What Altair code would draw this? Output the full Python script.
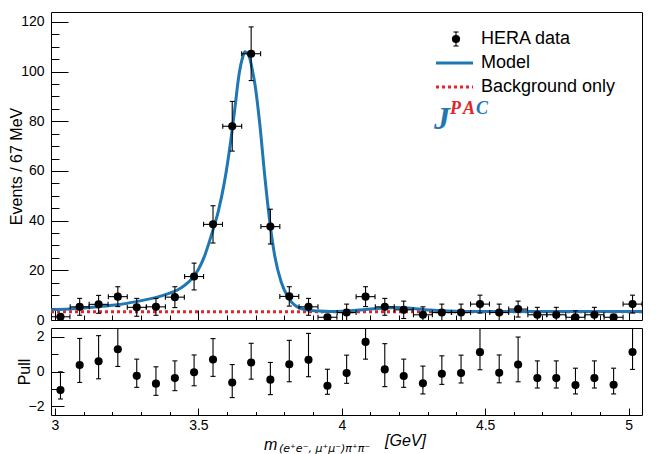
import altair as alt
import pandas as pd

# ---------------- data ----------------
mass = [3.019, 3.086, 3.152, 3.219, 3.285, 3.352, 3.418, 3.485, 3.551, 3.618,
        3.684, 3.751, 3.817, 3.884, 3.950, 4.017, 4.083, 4.150, 4.216, 4.283,
        4.349, 4.416, 4.482, 4.549, 4.615, 4.682, 4.748, 4.815, 4.881, 4.948, 5.014]
events = [1.3, 5.3, 6.3, 9.4, 5.1, 5.3, 9.2, 17.5, 38.5, 78.0,
          107.2, 37.6, 9.5, 5.3, 1.1, 3.0, 9.4, 5.3, 4.1, 2.1,
          3.0, 3.0, 6.4, 3.0, 4.4, 2.1, 2.1, 1.1, 2.1, 1.1, 6.4]
event_err = [1.0, 3.4, 3.6, 4.0, 3.6, 3.4, 4.2, 5.4, 7.5, 10.0,
             10.8, 7.0, 3.9, 3.4, 1.0, 3.4, 4.0, 3.4, 3.5, 3.2,
             3.4, 3.4, 3.6, 3.4, 3.2, 3.0, 3.0, 2.6, 3.0, 1.0, 3.6]
half_bin = 0.033

pull = [-1.07, 0.37, 0.59, 1.28, -0.25, -0.70, -0.38, -0.04, 0.69, -0.63,
        0.52, -0.47, 0.42, 0.67, -0.82, -0.09, 1.70, 0.12, -0.26, -0.68,
        -0.13, -0.09, 1.11, -0.07, 0.40, -0.38, -0.38, -0.78, -0.38, -0.76, 1.12]
pull_hi = [-0.02, 1.90, 2.06, 2.60, 0.71, 0.27, 0.61, 0.95, 1.89, 0.40,
           1.62, 0.52, 1.79, 2.19, 0.13, 0.94, 2.70, 1.60, 0.71, 0.31,
           0.90, 0.94, 2.60, 0.95, 1.98, 0.61, 0.61, 0.19, 0.61, 0.19, 2.60]
pull_lo = [-1.58, -0.63, -0.42, 0.29, -0.91, -1.37, -1.10, -0.82, -0.28, -1.50,
           -0.44, -1.33, -0.59, -0.30, -1.31, -0.68, 0.71, -0.87, -0.91, -1.29,
           -0.74, -0.66, 0.10, -0.65, -0.59, -0.95, -0.95, -1.29, -0.95, -1.29, 0.12]

model_m = [2.986, 3.05, 3.10, 3.15, 3.20, 3.25, 3.30, 3.35, 3.40, 3.43,
           3.45, 3.475, 3.50, 3.52, 3.545, 3.57, 3.59, 3.615, 3.627, 3.642,
           3.655, 3.662, 3.67, 3.679, 3.69, 3.697, 3.714, 3.731, 3.749, 3.766,
           3.789, 3.813, 3.848, 3.882, 3.92, 3.96, 4.00, 4.05, 4.10, 4.15,
           4.19, 4.23, 4.27, 4.31, 4.35, 4.40, 4.45, 4.60, 4.80, 5.047]
model_ev = [4.1, 4.4, 4.8, 5.3, 5.9, 6.7, 7.8, 9.0, 10.8, 12.3,
            13.8, 16.3, 20.3, 25.3, 34.0, 44.0, 55.0, 74.0, 85.0, 99.0,
            106.0, 108.0, 107.5, 105.5, 99.5, 95.0, 79.0, 58.5, 39.5, 26.0,
            15.2, 9.1, 5.1, 4.0, 3.6, 3.4, 3.5, 3.9, 4.4, 4.8,
            5.0, 4.8, 4.4, 4.0, 3.7, 3.5, 3.4, 3.4, 3.4, 3.4]

bg_m = [2.986, 5.047]
bg_ev = [3.3, 3.3]

legend_labels = ["HERA data", "Model", "Background only"]
x_title_parts = ["m", "(e\u207ae\u207b, \u03bc\u207a\u03bc\u207b)\u03c0\u207a\u03c0\u207b", "[GeV]"]
y_title_top = "Events / 67 MeV"
y_title_bot = "Pull"

X_MAJOR = [3, 3.5, 4, 4.5, 5]
X_MINOR = [3.1, 3.2, 3.3, 3.4, 3.6, 3.7, 3.8, 3.9, 4.1, 4.2, 4.3, 4.4, 4.6, 4.7, 4.8, 4.9]
Y_MAJOR = [0, 20, 40, 60, 80, 100, 120]
Y_MINOR = [5, 10, 15, 25, 30, 35, 45, 50, 55, 65, 70, 75, 85, 90, 95, 105, 110, 115]
P_MAJOR = [-2, 0, 2]
P_MINOR = [-1, 1]

# ---------------- styling ----------------
FONT = "Liberation Sans"
BLUE = "#1f77b4"
RED = "#e3242b"
W, H1, H2 = 591, 308, 87
DOT = 66

pts = pd.DataFrame({"m": mass, "ev": events, "err": event_err,
                    "pull": pull, "phi": pull_hi, "plo": pull_lo})
pts["lo"] = pts["ev"] - pts["err"]
pts["hi"] = pts["ev"] + pts["err"]
pts["mlo"] = pts["m"] - half_bin
pts["mhi"] = pts["m"] + half_bin
model_df = pd.DataFrame({"m": model_m, "ev": model_ev})
bg_df = pd.DataFrame({"m": bg_m, "ev": bg_ev})
one = pd.DataFrame({"k": [0]})

xs = alt.Scale(domain=[2.986, 5.047], nice=False, zero=False)
ys_top = alt.Scale(domain=[0, 124], nice=False, zero=False)
ys_bot = alt.Scale(domain=[-2.5, 2.5], nice=False, zero=False)


def tick_axis(orient, values, size, labels=False, **kw):
    return alt.Axis(orient=orient, values=values, tickSize=size, offset=-size,
                    labels=labels, domain=False, grid=False, tickColor="black",
                    tickWidth=1, **kw)


lab = dict(labelFont=FONT, labelFontSize=14, labelColor="black", labelFlush=False,
           labelOverlap=False)
ttl = dict(titleFont=FONT, titleFontSize=16, titleFontWeight="normal",
           titleColor="black", titlePadding=-4)

# ---------------- top panel ----------------
bg = alt.Chart(bg_df).mark_line(color=RED, strokeWidth=3, strokeDash=[3, 3], clip=True).encode(
    x=alt.X("m:Q", scale=xs, axis=tick_axis("bottom", X_MAJOR, 10, title=None)),
    y=alt.Y("ev:Q", scale=ys_top,
            axis=tick_axis("left", Y_MAJOR, 17, labels=True, labelPadding=7,
                           title=y_title_top, **lab, **ttl)))
model = alt.Chart(model_df).mark_line(color=BLUE, strokeWidth=3, interpolate="monotone", clip=True).encode(
    x=alt.X("m:Q", scale=xs, axis=tick_axis("bottom", X_MINOR, 5, title=None)),
    y=alt.Y("ev:Q", scale=ys_top, axis=tick_axis("left", Y_MINOR, 8, title=None)))

bp = alt.Chart(pts)
ek = dict(color="black", clip=True)
vbar = bp.mark_rule(strokeWidth=1.1, **ek).encode(
    x=alt.X("m:Q", scale=xs, axis=None),
    y=alt.Y("lo:Q", scale=ys_top, axis=None), y2="hi:Q")
hbar = bp.mark_rule(strokeWidth=1.1, **ek).encode(
    x=alt.X("mlo:Q", scale=xs, axis=None), x2="mhi:Q",
    y=alt.Y("ev:Q", scale=ys_top, axis=None))
vcap_hi = bp.mark_tick(orient="horizontal", size=5, thickness=1.1, opacity=1, **ek).encode(
    x=alt.X("m:Q", scale=xs, axis=None), y=alt.Y("hi:Q", scale=ys_top, axis=None))
vcap_lo = bp.mark_tick(orient="horizontal", size=5, thickness=1.1, opacity=1, **ek).encode(
    x=alt.X("m:Q", scale=xs, axis=None), y=alt.Y("lo:Q", scale=ys_top, axis=None))
hcap_lo = bp.mark_tick(orient="vertical", size=5, thickness=1.1, opacity=1, **ek).encode(
    x=alt.X("mlo:Q", scale=xs, axis=None), y=alt.Y("ev:Q", scale=ys_top, axis=None))
hcap_hi = bp.mark_tick(orient="vertical", size=5, thickness=1.1, opacity=1, **ek).encode(
    x=alt.X("mhi:Q", scale=xs, axis=None), y=alt.Y("ev:Q", scale=ys_top, axis=None))
dots = bp.mark_circle(size=DOT, color="black", opacity=1, clip=True).encode(
    x=alt.X("m:Q", scale=xs, axis=None), y=alt.Y("ev:Q", scale=ys_top, axis=None))

# legend (inside the top frame)
lg = alt.Chart(one)
LX_T = 430
leg_txt = [lg.mark_text(text=t, font=FONT, fontSize=18, align="left", baseline="middle", color="black").encode(
    x=alt.value(LX_T), y=alt.value(yy)) for t, yy in zip(legend_labels, [27, 51, 75])]
leg_pt = lg.mark_circle(size=DOT, color="black", opacity=1).encode(x=alt.value(405), y=alt.value(27))
leg_bar = lg.mark_rule(color="black", strokeWidth=1.1).encode(
    x=alt.value(405), y=alt.value(20), y2=alt.value(34))
leg_cap1 = lg.mark_tick(orient="horizontal", size=5, thickness=1.1, opacity=1, color="black").encode(
    x=alt.value(405), y=alt.value(20))
leg_cap2 = lg.mark_tick(orient="horizontal", size=5, thickness=1.1, opacity=1, color="black").encode(
    x=alt.value(405), y=alt.value(34))
leg_model = lg.mark_rule(color=BLUE, strokeWidth=3).encode(
    x=alt.value(385), x2=alt.value(422), y=alt.value(51))
leg_bg = lg.mark_rule(color=RED, strokeWidth=3, strokeDash=[3, 3]).encode(
    x=alt.value(385), x2=alt.value(422), y=alt.value(75))
logo_j = lg.mark_text(text="J", font="Liberation Serif", fontSize=32, fontWeight="bold",
                      fontStyle="italic", color=BLUE, align="left", baseline="alphabetic").encode(
    x=alt.value(383), y=alt.value(117))
logo_p = lg.mark_text(text="P", font="Liberation Serif", fontSize=18, fontWeight="bold",
                      fontStyle="italic", color=RED, align="left", baseline="alphabetic").encode(
    x=alt.value(399), y=alt.value(102))
logo_a = lg.mark_text(text="A", font="Liberation Serif", fontSize=18, fontWeight="bold",
                      fontStyle="italic", color=RED, align="left", baseline="alphabetic").encode(
    x=alt.value(412), y=alt.value(102))
logo_c = lg.mark_text(text="C", font="Liberation Serif", fontSize=18, fontWeight="bold",
                      fontStyle="italic", color=BLUE, align="left", baseline="alphabetic").encode(
    x=alt.value(425), y=alt.value(102))

top = alt.layer(bg, model, vbar, hbar, vcap_hi, vcap_lo, hcap_lo, hcap_hi, dots,
                leg_bar, leg_cap1, leg_cap2, leg_pt, leg_model, leg_bg, *leg_txt,
                logo_j, logo_p, logo_a, logo_c).resolve_axis(
    x="independent", y="independent").properties(width=W, height=H1)

# ---------------- pull panel ----------------
pbar = bp.mark_rule(strokeWidth=1.1, **ek).encode(
    x=alt.X("m:Q", scale=xs, axis=tick_axis("bottom", X_MAJOR, 7, labels=True, labelPadding=3,
                                            format="~g", title=None, **lab)),
    y=alt.Y("plo:Q", scale=ys_bot,
            axis=tick_axis("left", P_MAJOR, 13, labels=True, labelPadding=7,
                           title=y_title_bot, **lab, **ttl)),
    y2="phi:Q")
pcap_hi = bp.mark_tick(orient="horizontal", size=5, thickness=1.1, opacity=1, **ek).encode(
    x=alt.X("m:Q", scale=xs, axis=tick_axis("bottom", X_MINOR, 3.5, title=None)),
    y=alt.Y("phi:Q", scale=ys_bot, axis=tick_axis("left", P_MINOR, 7, title=None)))
pcap_lo = bp.mark_tick(orient="horizontal", size=5, thickness=1.1, opacity=1, **ek).encode(
    x=alt.X("m:Q", scale=xs, axis=None), y=alt.Y("plo:Q", scale=ys_bot, axis=None))
pdots = bp.mark_circle(size=DOT, color="black", opacity=1, clip=True).encode(
    x=alt.X("m:Q", scale=xs, axis=None), y=alt.Y("pull:Q", scale=ys_bot, axis=None))

xt_m = lg.mark_text(text=x_title_parts[0], font=FONT, fontSize=16, fontStyle="italic",
                    align="left", baseline="alphabetic", color="black").encode(
    x=alt.value(213), y=alt.value(122))
xt_sub = lg.mark_text(text=x_title_parts[1], font="DejaVu Sans", fontSize=11, fontStyle="italic",
                      align="left", baseline="alphabetic", color="black").encode(
    x=alt.value(228), y=alt.value(123.5))
xt_unit = lg.mark_text(text=x_title_parts[2], font=FONT, fontSize=16, fontStyle="italic",
                       align="left", baseline="alphabetic", color="black").encode(
    x=alt.value(334), y=alt.value(118))

bot = alt.layer(pbar, pcap_hi, pcap_lo, pdots, xt_m, xt_sub, xt_unit).resolve_axis(
    x="independent", y="independent").properties(width=W, height=H2)

chart = alt.vconcat(top, bot, spacing=8, bounds="flush").properties(
    padding={"left": 0, "top": 3, "right": 0, "bottom": 6}
).configure_view(stroke="black", strokeWidth=1)

chart.save("out.html", embed_options={"renderer": "svg", "actions": False})
